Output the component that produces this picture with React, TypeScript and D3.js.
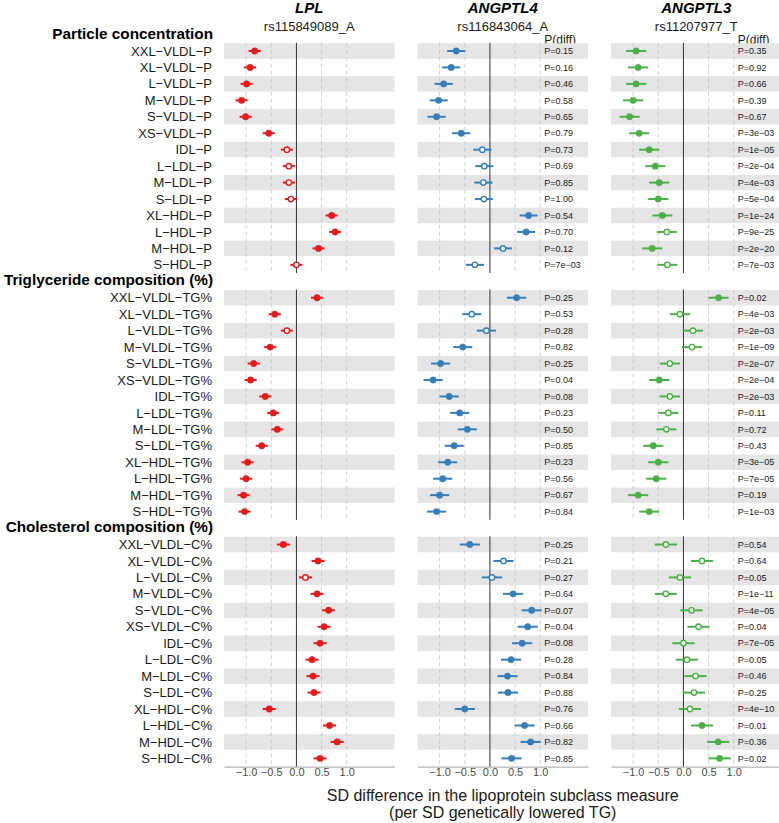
import { useEffect, useRef } from "react";
import * as d3 from "d3";

const genes = ["LPL", "ANGPTL4", "ANGPTL3"];
const snps = ["rs115849089_A", "rs116843064_A", "rs11207977_T"];
const geneColors = ["#E41A1C", "#377EB8", "#4DAF4A"];
const sections = ["Particle concentration", "Triglyceride composition (%)", "Cholesterol composition (%)"];

const particleLabels = ["XXL−VLDL−P", "XL−VLDL−P", "L−VLDL−P", "M−VLDL−P", "S−VLDL−P", "XS−VLDL−P", "IDL−P",
    "L−LDL−P", "M−LDL−P", "S−LDL−P", "XL−HDL−P", "L−HDL−P", "M−HDL−P", "S−HDL−P"];
const tgLabels = ["XXL−VLDL−TG%", "XL−VLDL−TG%", "L−VLDL−TG%", "M−VLDL−TG%", "S−VLDL−TG%", "XS−VLDL−TG%", "IDL−TG%",
    "L−LDL−TG%", "M−LDL−TG%", "S−LDL−TG%", "XL−HDL−TG%", "L−HDL−TG%", "M−HDL−TG%", "S−HDL−TG%"];
const cLabels = ["XXL−VLDL−C%", "XL−VLDL−C%", "L−VLDL−C%", "M−VLDL−C%", "S−VLDL−C%", "XS−VLDL−C%", "IDL−C%",
    "L−LDL−C%", "M−LDL−C%", "S−LDL−C%", "XL−HDL−C%", "L−HDL−C%", "M−HDL−C%", "S−HDL−C%"];

// point estimates (SD difference)
const lplP = [-0.83, -0.92, -0.99, -1.09, -1.01, -0.55, -0.19, -0.15, -0.15, -0.11, 0.70, 0.77, 0.44, 0.0];
const lplTG = [0.41, -0.43, -0.19, -0.52, -0.85, -0.91, -0.62, -0.46, -0.38, -0.69, -0.97, -1.0, -1.05, -1.03];
const lplC = [-0.26, 0.43, 0.18, 0.41, 0.64, 0.55, 0.47, 0.31, 0.33, 0.35, -0.54, 0.66, 0.81, 0.47];

const angptl4P = [-0.67, -0.77, -0.92, -1.02, -1.06, -0.57, -0.15, -0.11, -0.13, -0.12, 0.77, 0.72, 0.26, -0.30];
const angptl4TG = [0.53, -0.36, -0.07, -0.54, -0.98, -1.13, -0.81, -0.60, -0.45, -0.71, -0.84, -0.94, -1.0, -1.06];
const angptl4C = [-0.40, 0.27, 0.04, 0.46, 0.83, 0.75, 0.64, 0.42, 0.35, 0.36, -0.50, 0.69, 0.81, 0.43];

const angptl3P = [-0.94, -0.90, -0.94, -1.0, -1.07, -0.88, -0.68, -0.56, -0.48, -0.50, -0.42, -0.33, -0.62, -0.32];
const angptl3TG = [0.70, -0.07, 0.19, 0.17, -0.27, -0.48, -0.27, -0.30, -0.34, -0.60, -0.50, -0.54, -0.90, -0.68];
const angptl3C = [-0.35, 0.37, -0.07, -0.35, 0.16, 0.30, 0.0, 0.07, 0.24, 0.21, 0.13, 0.37, 0.69, 0.72];

// half width of the confidence interval, per gene and section
const ciHalf = [[0.12, 0.12, 0.13], [0.18, 0.19, 0.2], [0.2, 0.2, 0.22]];

// 1 = open marker
const lplPOpen = [0, 0, 0, 0, 0, 0, 1, 1, 1, 1, 0, 0, 0, 1];
const lplTGOpen = [0, 0, 1, 0, 0, 0, 0, 0, 0, 0, 0, 0, 0, 0];
const lplCOpen = [0, 0, 1, 0, 0, 0, 0, 0, 0, 0, 0, 0, 0, 0];
const angptl4POpen = [0, 0, 0, 0, 0, 0, 1, 1, 1, 1, 0, 0, 1, 1];
const angptl4TGOpen = [0, 1, 1, 0, 0, 0, 0, 0, 0, 0, 0, 0, 0, 0];
const angptl4COpen = [0, 1, 1, 0, 0, 0, 0, 0, 0, 0, 0, 0, 0, 0];
const angptl3POpen = [0, 0, 0, 0, 0, 0, 0, 0, 0, 0, 0, 1, 0, 1];
const angptl3TGOpen = [0, 1, 1, 1, 1, 0, 1, 1, 1, 0, 0, 0, 0, 0];
const angptl3COpen = [1, 1, 1, 1, 1, 1, 1, 1, 1, 1, 1, 0, 0, 0];

// P(diff) labels
const angptl4PDiff = ["0.15", "0.16", "0.46", "0.58", "0.65", "0.79", "0.73", "0.69", "0.85", "1.00", "0.54", "0.70", "0.12", "7e−03"];
const angptl4TGDiff = ["0.25", "0.53", "0.28", "0.82", "0.25", "0.04", "0.08", "0.23", "0.50", "0.85", "0.23", "0.56", "0.67", "0.84"];
const angptl4CDiff = ["0.25", "0.21", "0.27", "0.64", "0.07", "0.04", "0.08", "0.28", "0.84", "0.88", "0.76", "0.66", "0.82", "0.85"];
const angptl3PDiff = ["0.35", "0.92", "0.66", "0.39", "0.67", "3e−03", "1e−05", "2e−04", "4e−03", "5e−04", "1e−24", "9e−25", "2e−20", "7e−03"];
const angptl3TGDiff = ["0.02", "4e−03", "2e−03", "1e−09", "2e−07", "2e−04", "2e−03", "0.11", "0.72", "0.43", "3e−05", "7e−05", "0.19", "1e−03"];
const angptl3CDiff = ["0.54", "0.64", "0.05", "1e−11", "4e−05", "0.04", "7e−05", "0.05", "0.46", "0.25", "4e−10", "0.01", "0.36", "0.02"];

const xTicks = [-1, -0.5, 0, 0.5, 1];
const gridTicks = [-1, -0.5, 0.5, 1];

const font = "'Liberation Sans', Arial, sans-serif";

export default function App() {
    const ref = useRef<SVGSVGElement>(null);

    useEffect(() => {
        const svg = d3.select(ref.current);
        svg.selectAll("*").remove();

        const width = 779, height = 823;
        svg.attr("width", width).attr("height", height).style("font-family", font);

        const labels = [particleLabels, tgLabels, cLabels];
        const estimates = [[lplP, lplTG, lplC], [angptl4P, angptl4TG, angptl4C], [angptl3P, angptl3TG, angptl3C]];
        const opens = [[lplPOpen, lplTGOpen, lplCOpen], [angptl4POpen, angptl4TGOpen, angptl4COpen], [angptl3POpen, angptl3TGOpen, angptl3COpen]];
        const pdiffs = [null, [angptl4PDiff, angptl4TGDiff, angptl4CDiff], [angptl3PDiff, angptl3TGDiff, angptl3CDiff]];

        // one slot for each section header plus 14 rows per section
        const y = d3.scaleBand<number>().domain(d3.range(45)).range([26.3, 766.6]).padding(0);
        const step = y.bandwidth();
        const yc = (k: number) => (y(k) as number) + step / 2;
        const slot = (s: number, i: number) => s * 15 + 1 + i;

        const panelLeft = [224, 417.5, 611];
        const panelWidth = 170.5;

        // section headers + row labels
        sections.forEach((name, s) => {
            svg.append("text")
                .attr("x", 213).attr("y", yc(s * 15) + 4)
                .attr("text-anchor", "end")
                .attr("font-size", 15.3).attr("font-weight", "bold")
                .attr("fill", "#000")
                .text(name);
            labels[s].forEach((lab, i) => {
                svg.append("text")
                    .attr("x", 212).attr("y", yc(slot(s, i)) + 4.6)
                    .attr("text-anchor", "end")
                    .attr("font-size", 13)
                    .attr("fill", "#1a1a1a")
                    .text(lab);
            });
        });

        genes.forEach((gene, g) => {
            const x = d3.scaleLinear().domain([-1.44, 1.95]).range([panelLeft[g], panelLeft[g] + panelWidth]);
            const color = geneColors[g];
            const cx = panelLeft[g] + panelWidth / 2;
            const panel = svg.append("g");

            panel.append("text")
                .attr("x", cx).attr("y", 12.5)
                .attr("text-anchor", "middle")
                .attr("font-size", 15).attr("font-weight", "bold").attr("font-style", "italic")
                .text(gene);
            panel.append("text")
                .attr("x", cx).attr("y", 30.5)
                .attr("text-anchor", "middle")
                .attr("font-size", 13)
                .attr("fill", "#1a1a1a")
                .text(snps[g]);

            if (pdiffs[g]) {
                panel.append("text")
                    .attr("x", x(1.08)).attr("y", 43.5)
                    .attr("font-size", 12)
                    .attr("fill", "#1a1a1a")
                    .text("P(diff)");
            }

            sections.forEach((_, s) => {
                const top = y(slot(s, 0)) as number;
                const bottom = (y(slot(s, 13)) as number) + step;
                const f = panel.append("g");

                // alternating gray bands
                f.selectAll("rect.band")
                    .data(d3.range(0, 14, 2))
                    .enter()
                    .append("rect")
                    .attr("x", x.range()[0])
                    .attr("width", panelWidth)
                    .attr("y", (i) => yc(slot(s, i)) - step * 0.47)
                    .attr("height", step * 0.94)
                    .attr("fill", "#e5e5e5");

                f.selectAll("line.grid")
                    .data(gridTicks)
                    .enter()
                    .append("line")
                    .attr("x1", (d) => x(d)).attr("x2", (d) => x(d))
                    .attr("y1", top).attr("y2", bottom)
                    .attr("stroke", "#bdbdbd")
                    .attr("stroke-width", 0.7)
                    .attr("stroke-dasharray", "4,3");

                f.append("line")
                    .attr("x1", x(0)).attr("x2", x(0))
                    .attr("y1", top).attr("y2", bottom)
                    .attr("stroke", "#333")
                    .attr("stroke-width", 1);

                const rows = estimates[g][s].map((est, i) => ({
                    est, i, open: opens[g][s][i] === 1, half: ciHalf[g][s],
                }));

                f.selectAll("line.ci")
                    .data(rows)
                    .enter()
                    .append("line")
                    .attr("x1", (d) => x(d.est - d.half))
                    .attr("x2", (d) => x(d.est + d.half))
                    .attr("y1", (d) => yc(slot(s, d.i)))
                    .attr("y2", (d) => yc(slot(s, d.i)))
                    .attr("stroke", color)
                    .attr("stroke-width", 2);

                f.selectAll("circle.pt")
                    .data(rows)
                    .enter()
                    .append("circle")
                    .attr("cx", (d) => x(d.est))
                    .attr("cy", (d) => yc(slot(s, d.i)))
                    .attr("r", (d) => d.open ? 2.7 : 3.2)
                    .attr("fill", (d) => d.open ? "#fff" : color)
                    .attr("stroke", color)
                    .attr("stroke-width", (d) => d.open ? 1.4 : 0.5);

                const pd = pdiffs[g];
                if (pd) {
                    f.selectAll("text.p")
                        .data(pd[s])
                        .enter()
                        .append("text")
                        .attr("x", x(1.08))
                        .attr("y", (_, i) => yc(slot(s, i)) + 3.2)
                        .attr("font-size", 9)
                        .attr("fill", "#1a1a1a")
                        .text((d) => `P=${d}`);
                }
            });

            const axis = d3.axisBottom(x)
                .tickValues(xTicks)
                .tickSize(0)
                .tickSizeOuter(0)
                .tickPadding(1.5)
                .tickFormat(d3.format(".1f") as any);

            const ax = panel.append("g")
                .attr("transform", `translate(0,${(y(44) as number) + step})`)
                .call(axis);
            ax.select(".domain").attr("stroke", "#8a8a8a").attr("stroke-width", 0.8);
            ax.selectAll("text")
                .attr("font-size", 11)
                .attr("font-family", font)
                .attr("fill", "#4d4d4d");
        });

        const titleX = (panelLeft[0] + panelLeft[2] + panelWidth) / 2;
        svg.append("text")
            .attr("x", titleX).attr("y", 801)
            .attr("text-anchor", "middle")
            .attr("font-size", 16)
            .attr("fill", "#1a1a1a")
            .text("SD difference in the lipoprotein subclass measure");
        svg.append("text")
            .attr("x", titleX).attr("y", 818)
            .attr("text-anchor", "middle")
            .attr("font-size", 16)
            .attr("fill", "#1a1a1a")
            .text("(per SD genetically lowered TG)");
    }, []);

    return <div style={{position: "absolute", left: 0, top: 0}}>
        <svg ref={ref} style={{display: "block"}}></svg>
    </div>;
}
